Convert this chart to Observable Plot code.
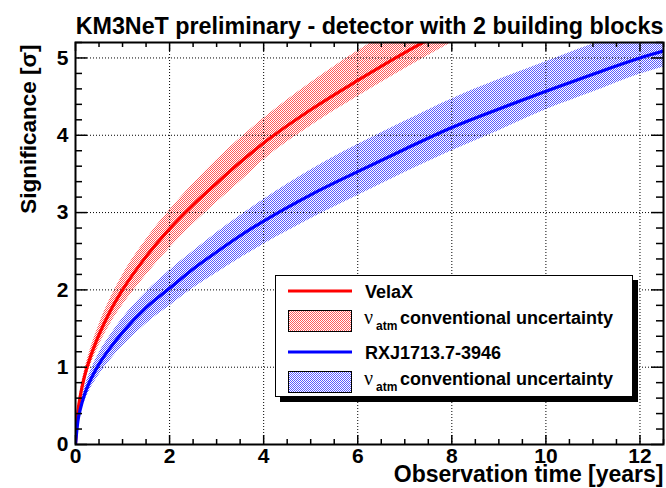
<!DOCTYPE html>
<html><head><meta charset="utf-8">
<script src="https://cdn.jsdelivr.net/npm/d3@7"></script>
<script src="https://cdn.jsdelivr.net/npm/@observablehq/plot@0.6"></script>
<style>body{margin:0;background:#fff} svg{display:block}</style>
</head><body><div id="chart"></div>
<script>
// ---- data ----
const titleText = "KM3NeT preliminary - detector with 2 building blocks";
const xLabelText = "Observation time [years]";
const yLabelText = "Significance [σ]";
const seriesNames = ["VelaX", "RXJ1713.7-3946"];
const bandLabel = "conventional uncertainty";

const velaYears = [0, 0.05, 0.1, 0.2, 0.3, 0.5, 0.75, 1, 1.5, 2, 2.5, 3, 3.5, 4, 5, 6, 7, 8];
const velaSig   = [0, 0.42, 0.62, 0.9, 1.1, 1.42, 1.74, 2.0, 2.43, 2.79, 3.1, 3.38, 3.65, 3.9, 4.33, 4.71, 5.07, 5.4];
const velaLow   = [0, 0.38, 0.56, 0.81, 0.99, 1.28, 1.57, 1.8, 2.19, 2.54, 2.85, 3.13, 3.4, 3.68, 4.12, 4.5, 4.86, 5.2];
const velaHigh  = [0, 0.46, 0.68, 0.98, 1.2, 1.55, 1.9, 2.19, 2.65, 3.03, 3.37, 3.68, 3.96, 4.22, 4.68, 5.09, 5.46, 5.8];

const rxjYears = [0, 0.05, 0.1, 0.2, 0.3, 0.5, 0.75, 1, 1.5, 2, 2.5, 3, 3.5, 4, 5, 6, 7, 8, 9, 10, 11, 12, 12.5];
const rxjSig   = [0, 0.3, 0.45, 0.66, 0.81, 1.04, 1.26, 1.45, 1.77, 2.02, 2.27, 2.49, 2.7, 2.89, 3.23, 3.53, 3.82, 4.1, 4.34, 4.57, 4.79, 5.0, 5.09];
const rxjLow   = [0, 0.26, 0.39, 0.57, 0.7, 0.9, 1.1, 1.27, 1.56, 1.79, 2.02, 2.22, 2.41, 2.59, 2.92, 3.22, 3.52, 3.8, 4.06, 4.33, 4.56, 4.79, 4.88];
const rxjHigh  = [0, 0.34, 0.51, 0.75, 0.92, 1.18, 1.42, 1.63, 1.97, 2.25, 2.5, 2.74, 2.96, 3.17, 3.55, 3.88, 4.18, 4.47, 4.72, 4.95, 5.18, 5.38, 5.47];

const xTicks = [0, 2, 4, 6, 8, 10, 12];
const yTicks = [0, 1, 2, 3, 4, 5];
const xMinorTicks = d3.range(0, 12.51, 0.5).filter(v => !xTicks.includes(v));
const yMinorTicks = d3.range(0, 5.21, 0.2).map(v => +v.toFixed(1)).filter(v => !yTicks.includes(v));

// ---- build tables ----
const vela = velaYears.map((t, i) => ({t, c: velaSig[i], lo: velaLow[i], hi: velaHigh[i]}));
const rxj = rxjYears.map((t, i) => ({t, c: rxjSig[i], lo: rxjLow[i], hi: rxjHigh[i]}));

const W = 666, H = 488, mL = 75, mR = 3, mT = 42, mB = 44;
const innerW = W - mL - mR, innerH = H - mT - mB;
const font = "'Liberation Sans', Arial, Helvetica, sans-serif";
const RED = "#ff0000", BLUE = "#0000ff";

const plot = Plot.plot({
  width: W, height: H,
  marginLeft: mL, marginRight: mR, marginTop: mT, marginBottom: mB,
  x: {domain: [0, 12.5], axis: null},
  y: {domain: [0, 5.2], axis: null},
  style: {fontFamily: font, background: "white", color: "black"},
  marks: [
    Plot.areaY(vela, {x: "t", y1: "lo", y2: "hi", fill: "url(#redPat)", curve: "monotone-x", clip: true}),
    Plot.areaY(rxj, {x: "t", y1: "lo", y2: "hi", fill: "url(#bluePat)", curve: "monotone-x", clip: true}),
    Plot.ruleX(xTicks.slice(1), {stroke: "black", strokeWidth: 1, strokeDasharray: "1,2"}),
    Plot.ruleY(yTicks.slice(1), {stroke: "black", strokeWidth: 1, strokeDasharray: "1,2"}),
    Plot.line(vela, {x: "t", y: "c", stroke: RED, strokeWidth: 3.2, curve: "monotone-x", clip: true}),
    Plot.line(rxj, {x: "t", y: "c", stroke: BLUE, strokeWidth: 3.2, curve: "monotone-x", clip: true}),
    // inward ticks
    Plot.ruleX(xTicks, {insetTop: innerH - 9, stroke: "black", strokeWidth: 1.5}),
    Plot.ruleX(xTicks, {insetBottom: innerH - 9, stroke: "black", strokeWidth: 1.5}),
    Plot.ruleX(xMinorTicks, {insetTop: innerH - 5, stroke: "black", strokeWidth: 1.5}),
    Plot.ruleX(xMinorTicks, {insetBottom: innerH - 5, stroke: "black", strokeWidth: 1.5}),
    Plot.ruleY(yTicks, {insetRight: innerW - 12, stroke: "black", strokeWidth: 1.5}),
    Plot.ruleY(yTicks, {insetLeft: innerW - 12, stroke: "black", strokeWidth: 1.5}),
    Plot.ruleY(yMinorTicks, {insetRight: innerW - 7, stroke: "black", strokeWidth: 1.5}),
    Plot.ruleY(yMinorTicks, {insetLeft: innerW - 7, stroke: "black", strokeWidth: 1.5}),
    Plot.frame({stroke: "black", strokeWidth: 2}),
    // tick labels
    Plot.text(xTicks, {x: d => d, text: d => String(d), frameAnchor: "bottom", dy: 18, fontSize: 21, fontWeight: "bold"}),
    Plot.text(yTicks, {y: d => d, text: d => String(d), frameAnchor: "left", textAnchor: "end", dx: -7, fontSize: 21, fontWeight: "bold"}),
    // titles
    Plot.text([titleText], {text: d => d, frameAnchor: "top", dy: -25, fontSize: 23.3, fontWeight: "bold"}),
    Plot.text([xLabelText], {text: d => d, frameAnchor: "bottom-right", textAnchor: "end", lineAnchor: "bottom", dy: 37, fontSize: 23, fontWeight: "bold"}),
    Plot.text([yLabelText], {text: d => d, frameAnchor: "top-left", rotate: -90, textAnchor: "end", dx: -55, dy: 2, fontSize: 22.5, fontWeight: "bold"})
  ]
});

// patterns (ROOT-like fine checker hatch)
const svg = d3.select(plot);
const defs = svg.insert("defs", ":first-child");
function pat(id, color) {
  const p = defs.append("pattern").attr("id", id).attr("width", 2).attr("height", 2).attr("patternUnits", "userSpaceOnUse");
  p.append("rect").attr("x", 0).attr("y", 0).attr("width", 1).attr("height", 1).attr("fill", color);
  p.append("rect").attr("x", 1).attr("y", 1).attr("width", 1).attr("height", 1).attr("fill", color);
}
pat("redPat", "#ff5a5a");
pat("bluePat", "#5a5aff");

// legend
const lg = svg.append("g").attr("font-family", font).attr("font-weight", "bold").attr("text-anchor", "start").attr("fill", "black");
lg.append("rect").attr("x", 280).attr("y", 280).attr("width", 358).attr("height", 122).attr("fill", "black");
lg.append("rect").attr("x", 275.5).attr("y", 275.5).attr("width", 357).attr("height", 121).attr("fill", "white").attr("stroke", "black").attr("stroke-width", 1);
const entries = [
  {type: "line", color: RED, pat: "redPat", label: seriesNames[0], y: 291},
  {type: "band", color: RED, pat: "redPat", y: 321},
  {type: "line", color: BLUE, pat: "bluePat", label: seriesNames[1], y: 352},
  {type: "band", color: BLUE, pat: "bluePat", y: 382}
];
for (const e of entries) {
  if (e.type === "line") {
    lg.append("line").attr("x1", 288).attr("x2", 352).attr("y1", e.y).attr("y2", e.y).attr("stroke", e.color).attr("stroke-width", 3);
    lg.append("text").attr("x", 365).attr("y", e.y + 6.5).attr("font-size", 18).attr("text-anchor", "start").text(e.label);
  } else {
    lg.append("rect").attr("x", 288.5).attr("y", e.y - 10.5).attr("width", 63).attr("height", 21).attr("fill", "white");
    lg.append("rect").attr("x", 288.5).attr("y", e.y - 10.5).attr("width", 63).attr("height", 21).attr("fill", `url(#${e.pat})`).attr("stroke", "black").attr("stroke-width", 1);
    lg.append("text").attr("x", 364).attr("y", e.y + 3).attr("font-size", 20).attr("font-weight", "normal").attr("text-anchor", "start").attr("font-family", "'Liberation Serif', 'DejaVu Serif', serif").text("ν");
    lg.append("text").attr("x", 376).attr("y", e.y + 9).attr("font-size", 12).attr("text-anchor", "start").text("atm");
    lg.append("text").attr("x", 400).attr("y", e.y + 3).attr("font-size", 18).attr("text-anchor", "start").text(bandLabel);
  }
}

document.getElementById("chart").appendChild(plot);
</script>
</body></html>
